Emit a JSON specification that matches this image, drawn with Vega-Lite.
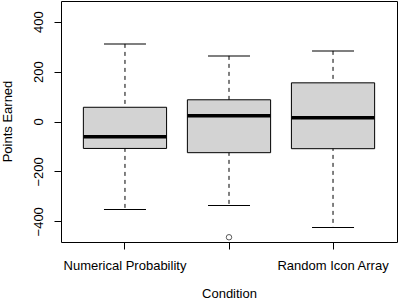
{
  "$schema": "https://vega.github.io/schema/vega-lite/v6.json",
  "autosize": {"type": "none"},
  "width": 336,
  "height": 241,
  "padding": {"left": 61, "top": 1, "right": 1, "bottom": 59},
  "background": "white",
  "config": {
    "view": {"stroke": "black", "strokeWidth": 1},
    "font": "Liberation Sans",
    "axis": {
      "labelFont": "Liberation Sans", "titleFont": "Liberation Sans",
      "labelFontSize": 13, "titleFontSize": 13, "labelColor": "black", "titleColor": "black",
      "titleFontWeight": "normal", "tickColor": "black", "tickSize": 7, "grid": false, "domain": false
    }
  },
  "datasets": {
    "stats": [
      {"cond": "Numerical Probability", "lo": -353, "q1": -108, "med": -61, "q3": 57, "hi": 311},
      {"cond": "Ordered Icon Array", "lo": -337, "q1": -125, "med": 23, "q3": 87, "hi": 263},
      {"cond": "Random Icon Array", "lo": -425, "q1": -109, "med": 15, "q3": 155, "hi": 283}
    ],
    "outliers": [
      {"cond": "Ordered Icon Array", "value": -464}
    ]
  },
  "data": {"name": "stats"},
  "encoding": {
    "x": {
      "field": "cond", "type": "nominal", "title": "Condition",
      "scale": {"type": "band", "domain": ["Numerical Probability", "Ordered Icon Array", "Random Icon Array"], "paddingInner": 0.2, "paddingOuter": 0.215},
      "axis": {"labelAngle": 0, "labelBaseline": "top", "labelPadding": 10, "labelExpr": "datum.index == 0.5 ? '' : datum.label", "titleBaseline": "bottom", "titleY": 58}
    }
  },
  "layer": [
    {
      "mark": {"type": "rule", "strokeDash": [4, 4], "color": "black", "strokeWidth": 1},
      "encoding": {
        "y": {"field": "hi", "type": "quantitative", "title": "Points Earned",
          "scale": {"domain": [-483, 483], "nice": false, "zero": false},
          "axis": {"values": [-400, -200, 0, 200, 400], "labelAngle": 270, "labelAlign": "center", "labelBaseline": "alphabetic", "labelPadding": 12, "titleAngle": 270, "titleAlign": "center", "titleBaseline": "middle", "titleX": -54, "titleY": 120}
        },
        "y2": {"field": "lo"}
      }
    },
    {
      "mark": {"type": "bar", "fill": "#d3d3d3", "stroke": "black", "strokeWidth": 1},
      "encoding": {
        "y": {"field": "q1", "type": "quantitative"},
        "y2": {"field": "q3"}
      }
    },
    {
      "mark": {"type": "tick", "color": "black", "thickness": 3.5, "size": 83, "opacity": 1},
      "encoding": {"y": {"field": "med", "type": "quantitative"}}
    },
    {
      "mark": {"type": "tick", "color": "black", "thickness": 1, "size": 42, "opacity": 1},
      "encoding": {"y": {"field": "hi", "type": "quantitative"}}
    },
    {
      "mark": {"type": "tick", "color": "black", "thickness": 1, "size": 42, "opacity": 1},
      "encoding": {"y": {"field": "lo", "type": "quantitative"}}
    },
    {
      "data": {"name": "outliers"},
      "mark": {"type": "point", "shape": "circle", "filled": false, "stroke": "#333", "strokeWidth": 0.8, "size": 30, "opacity": 1},
      "encoding": {"y": {"field": "value", "type": "quantitative"}}
    }
  ]
}
